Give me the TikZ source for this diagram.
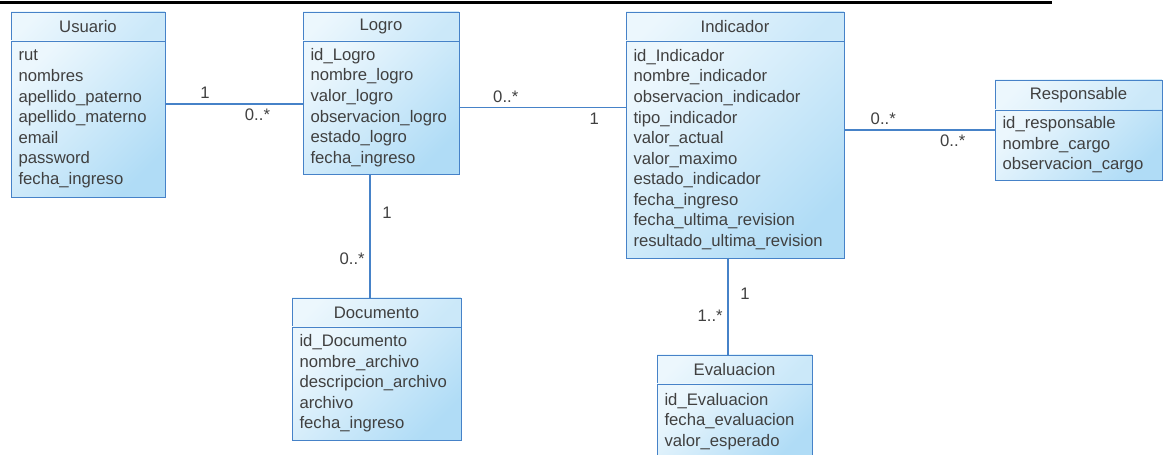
\documentclass[tikz,border=0pt]{standalone}
\usepackage{fontspec}
\setmainfont{Liberation Sans}
\usetikzlibrary{positioning, calc}
\definecolor{umlline}{RGB}{70,130,200}
\definecolor{umllight}{RGB}{236,247,253}
\definecolor{umldark}{RGB}{176,220,246}
\definecolor{umltext}{RGB}{64,64,64}

\begin{document}
\begin{tikzpicture}[
    x=0.02cm, y=-0.02cm,
    every node/.style={font=\fontsize{9.5}{11.7}\selectfont, text=umltext, outer sep=0pt},
    clshead/.style={rectangle, draw=umlline, left color=umllight, right color=umldark!55!umllight, shading angle=45, minimum width=#1, minimum height=0.58cm, align=center, anchor=north},
    clsbody/.style={rectangle, draw=umlline, left color=umllight, right color=umldark, shading angle=45, text width=#1, inner xsep=0.15cm, align=left},
    assoc/.style={draw=umlline, line width=0.7pt},
    mult/.style={inner sep=3pt}
  ]
  \useasboundingbox (0,0) rectangle (1167,455);

  % rule at the top of the page
  \draw[line width=1.4pt] (0,2.5) -- (1052,2.5);

  % Usuario
  \node[clshead=3.08cm] (usuario) at (88,12) {Usuario};
  \node[clsbody=2.78cm, minimum height=3.12cm, below=0pt of usuario] (usuarioAttr) {
    rut\\ nombres\\ apellido\_paterno\\ apellido\_materno\\ email\\ password\\ fecha\_ingreso};

  % Logro
  \node[clshead=3.12cm] (logro) at (381,12) {Logro};
  \node[clsbody=2.82cm, minimum height=2.66cm, below=0pt of logro] (logroAttr) {
    id\_Logro\\ nombre\_logro\\ valor\_logro\\ observacion\_logro\\ estado\_logro\\ fecha\_ingreso};

  % Indicador
  \node[clshead=4.36cm] (indicador) at (735,12) {Indicador};
  \node[clsbody=4.06cm, minimum height=4.34cm, below=0pt of indicador] (indicadorAttr) {
    id\_Indicador\\ nombre\_indicador\\ observacion\_indicador\\ tipo\_indicador\\ valor\_actual\\
    valor\_maximo\\ estado\_indicador\\ fecha\_ingreso\\ fecha\_ultima\_revision\\ resultado\_ultima\_revision};

  % Responsable
  \node[clshead=3.34cm, minimum height=0.6cm] (responsable) at (1078.5,80) {Responsable};
  \node[clsbody=3.04cm, minimum height=1.4cm, below=0pt of responsable] (responsableAttr) {
    id\_responsable\\ nombre\_cargo\\ observacion\_cargo};

  % Documento
  \node[clshead=3.38cm] (documento) at (376.5,298) {Documento};
  \node[clsbody=3.08cm, minimum height=2.26cm, below=0pt of documento] (documentoAttr) {
    id\_Documento\\ nombre\_archivo\\ descripcion\_archivo\\ archivo\\ fecha\_ingreso};

  % Evaluacion
  \node[clshead=3.10cm] (evaluacion) at (734.5,355) {Evaluacion};
  \node[clsbody=2.80cm, minimum height=1.5cm, below=0pt of evaluacion] (evaluacionAttr) {
    id\_Evaluacion\\ fecha\_evaluacion\\ valor\_esperado};

  % associations
  \coordinate (uL) at ($(usuarioAttr.east)+(0,-15)$);
  \draw[assoc] (uL) -- (uL -| logroAttr.west)
    node[mult, pos=0.29, above] {1}
    node[mult, pos=0.67, below] {0..*};

  \draw[assoc] (logroAttr.east) -- (logroAttr.east -| indicadorAttr.west)
    node[mult, pos=0.28, above] {0..*}
    node[mult, pos=0.81, below] {1};

  \coordinate (iR) at ($(responsableAttr.west)+(0,-15)$);
  \draw[assoc] (iR -| indicadorAttr.east) -- (iR)
    node[mult, pos=0.26, above] {0..*}
    node[mult, pos=0.72, below] {0..*};

  \coordinate (lD) at ($(logroAttr.south)+(-11,0)$);
  \draw[assoc] (lD) -- (lD |- documento.north)
    node[mult, pos=0.31, right=4pt] {1}
    node[mult, pos=0.68, left] {0..*};

  \coordinate (iE) at ($(indicadorAttr.south)+(-7,0)$);
  \draw[assoc] (iE) -- (iE |- evaluacion.north)
    node[mult, pos=0.37, right=4pt] {1}
    node[mult, pos=0.60, left] {1..*};
\end{tikzpicture}
\end{document}
